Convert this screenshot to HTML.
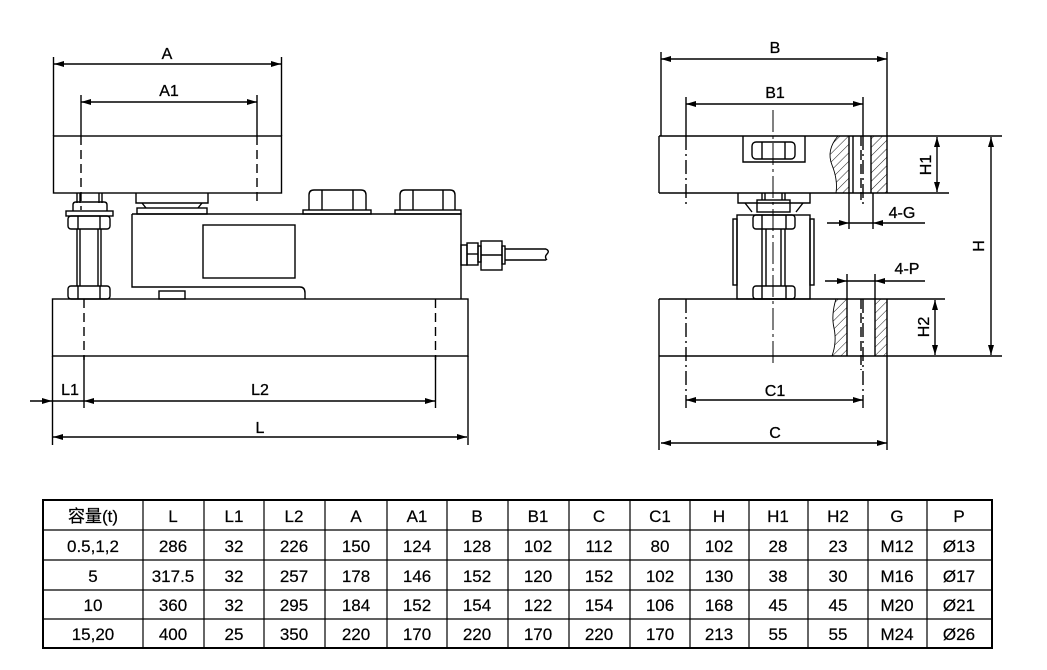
<!DOCTYPE html>
<html><head><meta charset="utf-8"><style>
html,body{margin:0;padding:0;background:#fff;}
svg{display:block;}
text{font-family:"Liberation Sans","Noto Sans CJK SC",sans-serif;fill:#000;}
</style></head><body>
<svg width="1047" height="670" viewBox="0 0 1047 670" xmlns="http://www.w3.org/2000/svg">
<defs>
<marker id="ar" viewBox="0 0 10 6" refX="10" refY="3" markerWidth="10" markerHeight="6" markerUnits="userSpaceOnUse" orient="auto-start-reverse"><path d="M0,0 L10,3 L0,6 z" fill="#000"/></marker>
<pattern id="hatch" patternUnits="userSpaceOnUse" width="6" height="6" patternTransform="rotate(45)"><line x1="0" y1="0" x2="0" y2="6" stroke="#000" stroke-width="0.9"/></pattern>
</defs>
<g stroke="#000" stroke-width="1.4" fill="none">
<line x1="53.5" y1="57" x2="53.5" y2="136"/><line x1="281.5" y1="57" x2="281.5" y2="136"/>
<line x1="54" y1="64" x2="281" y2="64" marker-start="url(#ar)" marker-end="url(#ar)"/>
<line x1="81" y1="95" x2="81" y2="136"/><line x1="257" y1="95" x2="257" y2="136"/>
<line x1="81" y1="102" x2="257" y2="102" marker-start="url(#ar)" marker-end="url(#ar)"/>
<rect x="53.5" y="136" width="228" height="57"/>
<line x1="81" y1="136" x2="81" y2="210" stroke-dasharray="9,5"/>
<line x1="257" y1="136" x2="257" y2="203" stroke-dasharray="9,5"/>
<line x1="77" y1="193" x2="77" y2="203"/><line x1="80" y1="193" x2="80" y2="203"/>
<line x1="99" y1="193" x2="99" y2="203"/><line x1="102" y1="193" x2="102" y2="203"/>
<path d="M73,211 L73,205 Q73,202 76,202 L104,202 Q107,202 107,205 L107,211"/>
<rect x="66" y="211" width="47" height="5"/>
<rect x="68" y="216" width="42" height="13" rx="3"/>
<line x1="78" y1="216" x2="78" y2="229"/><line x1="100" y1="216" x2="100" y2="229"/>
<line x1="77" y1="229" x2="77" y2="286"/><line x1="80" y1="229" x2="80" y2="286"/>
<line x1="98" y1="229" x2="98" y2="286"/><line x1="101" y1="229" x2="101" y2="286"/>
<rect x="68" y="286" width="42" height="13" rx="3"/>
<line x1="78" y1="286" x2="78" y2="299"/><line x1="100" y1="286" x2="100" y2="299"/>
<path d="M136,193 L136,203 L208,203 L208,193"/>
<path d="M142,203 L146,208 M202,203 L198,208"/>
<rect x="137" y="208" width="70" height="6"/>
<path d="M132,214 L461,214 L461,299 M132,214 L132,287 L300,287 Q305,287 305,293 L305,299"/>
<rect x="203" y="225" width="92" height="53"/>
<rect x="159" y="291" width="26" height="8"/>
<rect x="303" y="210" width="68" height="4"/>
<path d="M309,210 L309,195 Q309,190 314,190 L361,190 Q366,190 366,195 L366,210"/>
<line x1="322" y1="190" x2="322" y2="210"/><line x1="353" y1="190" x2="353" y2="210"/>
<rect x="395" y="210" width="66" height="4"/>
<path d="M400,210 L400,195 Q400,190 405,190 L450,190 Q455,190 455,195 L455,210"/>
<line x1="413" y1="190" x2="413" y2="210"/><line x1="443" y1="190" x2="443" y2="210"/>
<rect x="461" y="245" width="6" height="20"/>
<rect x="467" y="243" width="11" height="22"/><line x1="467" y1="254" x2="478" y2="254"/>
<rect x="478" y="246" width="3" height="16"/>
<rect x="481" y="241" width="21" height="29"/><line x1="481" y1="255" x2="502" y2="255"/>
<rect x="502" y="246" width="3" height="18"/>
<path d="M505,249 L546,249 M505,260 L546,260"/>
<path d="M546,249 Q550,251 547,254 Q544,257 547,260"/>
<rect x="52.5" y="299" width="415.5" height="57"/>
<line x1="84" y1="299" x2="84" y2="360" stroke-dasharray="9,5"/>
<line x1="435.5" y1="299" x2="435.5" y2="360" stroke-dasharray="9,5"/>
<line x1="84" y1="356" x2="84" y2="408"/><line x1="435.5" y1="356" x2="435.5" y2="408"/>
<line x1="52.5" y1="356" x2="52.5" y2="445"/><line x1="468" y1="356" x2="468" y2="445"/>
<line x1="30" y1="401" x2="52" y2="401" marker-end="url(#ar)"/>
<line x1="52.5" y1="401" x2="84" y2="401"/>
<line x1="84" y1="401" x2="435" y2="401" marker-start="url(#ar)" marker-end="url(#ar)"/>
<line x1="53" y1="437" x2="467" y2="437" marker-start="url(#ar)" marker-end="url(#ar)"/>

<line x1="661" y1="52" x2="661" y2="136"/><line x1="887" y1="52" x2="887" y2="136"/>
<line x1="661" y1="59" x2="887" y2="59" marker-start="url(#ar)" marker-end="url(#ar)"/>
<line x1="686" y1="97" x2="686" y2="136"/><line x1="863" y1="97" x2="863" y2="136"/>
<line x1="686" y1="104" x2="863" y2="104" marker-start="url(#ar)" marker-end="url(#ar)"/>
<line x1="659" y1="136" x2="1002" y2="136"/>
<line x1="659" y1="193" x2="949" y2="193"/>
<line x1="659" y1="136" x2="659" y2="193"/>
<line x1="887" y1="136" x2="887" y2="193"/>
<line x1="686" y1="136" x2="686" y2="205" stroke-dasharray="14,4,2,4"/>
<line x1="863" y1="136" x2="863" y2="205" stroke-dasharray="14,4,2,4"/>
<path d="M743,136 L743,162 L805,162 L805,136"/>
<rect x="752" y="142" width="43" height="17" rx="4"/>
<line x1="762" y1="142" x2="762" y2="159"/><line x1="785" y1="142" x2="785" y2="159"/>
<path d="M838,136 Q826,150 832,165 Q838,180 836,193 L849,193 L849,136 Z" fill="url(#hatch)" stroke="none"/>
<path d="M838,136 Q826,150 832,165 Q838,180 836,193" stroke-width="0.9"/>
<rect x="871" y="136" width="16" height="57" fill="url(#hatch)" stroke="none"/>
<line x1="849" y1="136" x2="849" y2="229"/><line x1="853" y1="136" x2="853" y2="193"/>
<line x1="871" y1="136" x2="871" y2="193"/><line x1="873" y1="193" x2="873" y2="229"/>
<line x1="861" y1="136" x2="861" y2="200" stroke-dasharray="10,4"/>
<line x1="827" y1="223" x2="849" y2="223" marker-end="url(#ar)"/>
<line x1="849" y1="223" x2="873" y2="223"/>
<line x1="925" y1="223" x2="873" y2="223" marker-end="url(#ar)"/>
<path d="M738,193 L738,203 L810,203 L810,193"/>
<path d="M745,203 L752,212 M803,203 L796,212"/>
<rect x="757" y="200" width="33" height="12"/>
<line x1="762" y1="193" x2="762" y2="200"/><line x1="765" y1="193" x2="765" y2="200"/>
<line x1="782" y1="193" x2="782" y2="200"/><line x1="785" y1="193" x2="785" y2="200"/>
<rect x="737" y="215" width="73" height="84"/>
<rect x="733" y="219" width="4" height="66"/><rect x="810" y="219" width="4" height="66"/>
<rect x="753" y="215" width="42" height="14" rx="3"/>
<line x1="762" y1="215" x2="762" y2="229"/><line x1="786" y1="215" x2="786" y2="229"/>
<line x1="762" y1="229" x2="762" y2="286"/><line x1="766" y1="229" x2="766" y2="286"/>
<line x1="781" y1="229" x2="781" y2="286"/><line x1="785" y1="229" x2="785" y2="286"/>
<rect x="753" y="286" width="42" height="13" rx="3"/>
<line x1="762" y1="286" x2="762" y2="299"/><line x1="786" y1="286" x2="786" y2="299"/>
<line x1="773" y1="110" x2="773" y2="363" stroke-dasharray="22,4,3,4" stroke-width="1"/>
<line x1="847" y1="274" x2="847" y2="299"/><line x1="875" y1="274" x2="875" y2="299"/>
<line x1="825" y1="281" x2="847" y2="281" marker-end="url(#ar)"/>
<line x1="847" y1="281" x2="875" y2="281"/>
<line x1="925" y1="281" x2="875" y2="281" marker-end="url(#ar)"/>
<line x1="659" y1="299" x2="945" y2="299"/>
<line x1="659" y1="356" x2="1002" y2="356"/>
<line x1="659" y1="299" x2="659" y2="450"/>
<line x1="887" y1="299" x2="887" y2="450"/>
<line x1="686" y1="299" x2="686" y2="408" stroke-dasharray="14,4,2,4"/>
<line x1="863" y1="299" x2="863" y2="408" stroke-dasharray="14,4,2,4"/>
<path d="M836,299 Q831,315 834,328 Q837,342 832,356 L847,356 L847,299 Z" fill="url(#hatch)" stroke="none"/>
<path d="M836,299 Q831,315 834,328 Q837,342 832,356" stroke-width="0.9"/>
<rect x="875" y="299" width="12" height="57" fill="url(#hatch)" stroke="none"/>
<line x1="847" y1="299" x2="847" y2="356"/><line x1="875" y1="299" x2="875" y2="356"/>
<line x1="861" y1="299" x2="861" y2="370" stroke-dasharray="10,4"/>
<line x1="937" y1="137" x2="937" y2="192" marker-start="url(#ar)" marker-end="url(#ar)"/>
<line x1="991" y1="137" x2="991" y2="355" marker-start="url(#ar)" marker-end="url(#ar)"/>
<line x1="935" y1="300" x2="935" y2="355" marker-start="url(#ar)" marker-end="url(#ar)"/>
<line x1="686" y1="400" x2="863" y2="400" marker-start="url(#ar)" marker-end="url(#ar)"/>
<line x1="661" y1="443" x2="887" y2="443" marker-start="url(#ar)" marker-end="url(#ar)"/>
</g>
<g font-size="16" text-anchor="middle" stroke="#000" stroke-width="0.3">
<text x="167" y="59">A</text>
<text x="169" y="96">A1</text>
<text x="70" y="395">L1</text>
<text x="260" y="395">L2</text>
<text x="260" y="433">L</text>
<text x="775" y="53">B</text>
<text x="775" y="98">B1</text>
<text x="775" y="396">C1</text>
<text x="775" y="438">C</text>
<text x="902" y="218">4-G</text>
<text x="907" y="274">4-P</text>
<text transform="translate(931,165) rotate(-90)">H1</text>
<text transform="translate(984,246) rotate(-90)">H</text>
<text transform="translate(929,327) rotate(-90)">H2</text>
</g>
<g stroke="#000" fill="none">
<rect x="43" y="500" width="949" height="148" stroke-width="2"/>
<g stroke-width="1.2">
<line x1="43" y1="530" x2="992" y2="530"/><line x1="43" y1="560" x2="992" y2="560"/>
<line x1="43" y1="590" x2="992" y2="590"/><line x1="43" y1="619" x2="992" y2="619"/>
<line x1="143" y1="500" x2="143" y2="648"/><line x1="204" y1="500" x2="204" y2="648"/>
<line x1="264" y1="500" x2="264" y2="648"/><line x1="325" y1="500" x2="325" y2="648"/>
<line x1="387" y1="500" x2="387" y2="648"/><line x1="447" y1="500" x2="447" y2="648"/>
<line x1="508" y1="500" x2="508" y2="648"/><line x1="569" y1="500" x2="569" y2="648"/>
<line x1="630" y1="500" x2="630" y2="648"/><line x1="690" y1="500" x2="690" y2="648"/>
<line x1="749" y1="500" x2="749" y2="648"/><line x1="808" y1="500" x2="808" y2="648"/>
<line x1="868" y1="500" x2="868" y2="648"/><line x1="927" y1="500" x2="927" y2="648"/>
</g></g>
<g font-size="17" text-anchor="middle" stroke="#000" stroke-width="0.2">
<text x="93" y="522">容量(t)</text><text x="173" y="522">L</text><text x="234" y="522">L1</text><text x="294" y="522">L2</text><text x="356" y="522">A</text><text x="417" y="522">A1</text><text x="477" y="522">B</text><text x="538" y="522">B1</text><text x="599" y="522">C</text><text x="660" y="522">C1</text><text x="719" y="522">H</text><text x="778" y="522">H1</text><text x="838" y="522">H2</text><text x="897" y="522">G</text><text x="959" y="522">P</text>
<text x="93" y="552">0.5,1,2</text><text x="173" y="552">286</text><text x="234" y="552">32</text><text x="294" y="552">226</text><text x="356" y="552">150</text><text x="417" y="552">124</text><text x="477" y="552">128</text><text x="538" y="552">102</text><text x="599" y="552">112</text><text x="660" y="552">80</text><text x="719" y="552">102</text><text x="778" y="552">28</text><text x="838" y="552">23</text><text x="897" y="552">M12</text><text x="959" y="552">Ø13</text>
<text x="93" y="582">5</text><text x="173" y="582">317.5</text><text x="234" y="582">32</text><text x="294" y="582">257</text><text x="356" y="582">178</text><text x="417" y="582">146</text><text x="477" y="582">152</text><text x="538" y="582">120</text><text x="599" y="582">152</text><text x="660" y="582">102</text><text x="719" y="582">130</text><text x="778" y="582">38</text><text x="838" y="582">30</text><text x="897" y="582">M16</text><text x="959" y="582">Ø17</text>
<text x="93" y="611">10</text><text x="173" y="611">360</text><text x="234" y="611">32</text><text x="294" y="611">295</text><text x="356" y="611">184</text><text x="417" y="611">152</text><text x="477" y="611">154</text><text x="538" y="611">122</text><text x="599" y="611">154</text><text x="660" y="611">106</text><text x="719" y="611">168</text><text x="778" y="611">45</text><text x="838" y="611">45</text><text x="897" y="611">M20</text><text x="959" y="611">Ø21</text>
<text x="93" y="640">15,20</text><text x="173" y="640">400</text><text x="234" y="640">25</text><text x="294" y="640">350</text><text x="356" y="640">220</text><text x="417" y="640">170</text><text x="477" y="640">220</text><text x="538" y="640">170</text><text x="599" y="640">220</text><text x="660" y="640">170</text><text x="719" y="640">213</text><text x="778" y="640">55</text><text x="838" y="640">55</text><text x="897" y="640">M24</text><text x="959" y="640">Ø26</text>
</g>
</svg>
</body></html>
